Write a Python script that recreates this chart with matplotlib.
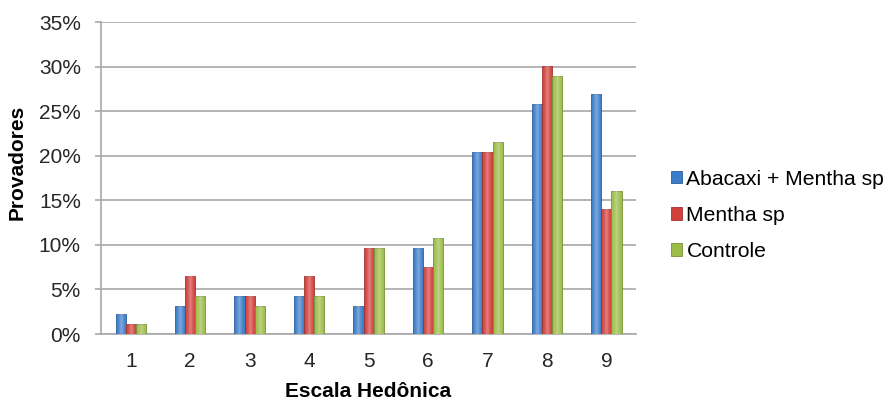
#!/usr/bin/env python3

"""
bar chart: share of tasters per hedonic scale score, three samples.
output: out.png
"""

import numpy as np
import matplotlib.pyplot as plt
from matplotlib.ticker import PercentFormatter

plt.rcParams['font.family'] = ['Liberation Sans', 'DejaVu Sans']

SCORES = ["1", "2", "3", "4", "5", "6", "7", "8", "9"]

# percent of tasters per score
ABACAXI_MENTHA = [2.2, 3.2, 4.3, 4.3, 3.2, 9.7, 20.4, 25.8, 26.9]
MENTHA = [1.1, 6.5, 4.3, 6.5, 9.7, 7.5, 20.4, 30.1, 14.0]
CONTROLE = [1.1, 4.3, 3.2, 4.3, 9.7, 10.8, 21.5, 29.0, 16.1]

SERIES = [
    ("Abacaxi + Mentha sp", ABACAXI_MENTHA, "#3b7cc8", "#2a5d9c"),
    ("Mentha sp", MENTHA, "#d1403b", "#a3302c"),
    ("Controle", CONTROLE, "#9bbd47", "#76923a"),
]

GRID = "#a8a8a8"

fig = plt.figure(figsize=(8.95, 4.01), dpi=100)
ax = fig.add_axes([0.1128, 0.167, 0.598, 0.778])

x = np.arange(len(SCORES))
width = 0.17

for i, (name, vals, color, edge) in enumerate(SERIES):
    bars = ax.bar(x + (i - 1) * width, vals, width, color=color,
                  edgecolor=edge, linewidth=0.6, label=name, zorder=3)
    # light centre stripe, gives the bars a rounded look
    for b in bars:
        grad = np.linspace(-1, 1, 32)
        shade = (1 - np.abs(grad)) ** 1.5
        img = np.zeros((1, 32, 4))
        img[..., :3] = 1.0
        img[..., 3] = shade * 0.35
        bx, by = b.get_x(), b.get_y()
        im = ax.imshow(img, extent=(bx, bx + b.get_width(), by, by + b.get_height()),
                       aspect='auto', zorder=4, interpolation='bilinear')
        im.set_clip_path(b)

ax.set_xlim(-0.5, len(SCORES) - 0.5)
ax.set_ylim(0, 35)
ax.set_yticks(np.arange(0, 36, 5))
ax.yaxis.set_major_formatter(PercentFormatter(decimals=0))
ax.set_xticks(x)
ax.set_xticklabels(SCORES)

ax.grid(axis='y', color=GRID, linewidth=1.2, zorder=0)
for side in ("top", "right"):
    ax.spines[side].set_visible(False)
for side in ("left", "bottom"):
    ax.spines[side].set_color(GRID)
    ax.spines[side].set_linewidth(1.2)

ax.tick_params(axis='y', length=4.5, width=1.2, color=GRID, pad=10,
               labelsize=15, labelcolor="#262626")
ax.tick_params(axis='x', length=0, pad=13, labelsize=15, labelcolor="#262626")

ax.set_xlabel("Escala Hedônica", fontsize=15, fontweight='bold', labelpad=8)
ax.set_ylabel("Provadores", fontsize=15, fontweight='bold')
ax.yaxis.set_label_coords(-0.138, 0.55)

fig.legend(loc='center left', bbox_to_anchor=(0.728, 0.463), frameon=False,
           fontsize=15.2, handlelength=0.55, handleheight=0.55, handletextpad=0.2,
           labelspacing=0.82)

plt.savefig("out.png", dpi=100)
